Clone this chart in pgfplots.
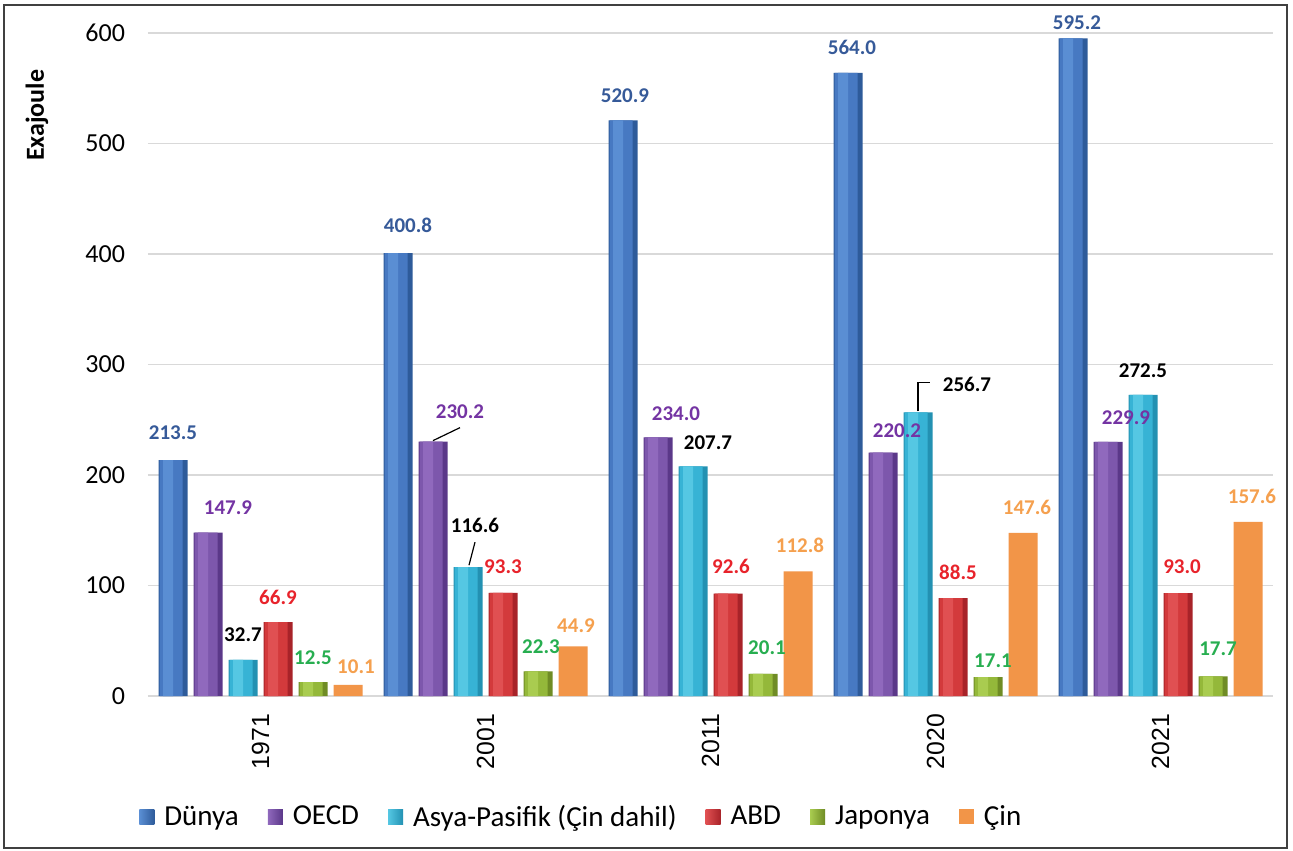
\documentclass[border=0pt]{standalone}
\usepackage{pgfplots}
\pgfplotsset{compat=1.18}
\usepackage{pgfplotstable}
\usepackage{fontspec}
\setmainfont{Carlito}
\newfontfamily\arialfont{Liberation Sans}

% bar colours (dark edge, mid body, light highlight)
\definecolor{dunyaM}{HTML}{4779C2}\definecolor{dunyaL}{HTML}{5A8ED3}\definecolor{dunyaD}{HTML}{2E5B9A}
\definecolor{oecdM}{HTML}{7D57AC}\definecolor{oecdL}{HTML}{9069BD}\definecolor{oecdD}{HTML}{5B3889}
\definecolor{asyaM}{HTML}{37B3D5}\definecolor{asyaL}{HTML}{55C7E3}\definecolor{asyaD}{HTML}{2391B2}
\definecolor{abdM}{HTML}{D33A3C}\definecolor{abdL}{HTML}{E05052}\definecolor{abdD}{HTML}{A82329}
\definecolor{japM}{HTML}{94B83A}\definecolor{japL}{HTML}{A9CC50}\definecolor{japD}{HTML}{6F8C25}
\definecolor{cinM}{HTML}{F29548}
% value label colours
\definecolor{dunyaT}{HTML}{365A99}
\definecolor{oecdT}{HTML}{7434A3}
\definecolor{abdT}{HTML}{E8232B}
\definecolor{japT}{HTML}{27AE50}
\definecolor{cinT}{HTML}{F5A04E}

\newcommand{\lbl}{\bfseries\fontsize{10.5}{12}\selectfont}

% x = period index, y = exajoule, dx/dy = label offset (pt)
\pgfplotstableread{
x y dx dy
0 213.5 0 13.5
1 400.8 5 14
2 520.9 1 12.5
3 564.0 2 12.5
4 595.2 2 8
}\dunya
\pgfplotstableread{
x y dx dy
0 147.9 10 12.5
1 230.2 13.5 15
2 234.0 9 12
3 220.2 7 11
4 229.9 9 12
}\oecd
\pgfplotstableread{
x y dx dy
0 32.7 0 12.5
1 116.6 3.5 21
2 207.7 7.5 12
3 256.7 24.5 14
4 272.5 0 12
}\asya
\pgfplotstableread{
x y dx dy
0 66.9 0 12.5
1 93.3 0 13
2 92.6 1.5 13.5
3 88.5 2.5 13
4 93.0 2 13.5
}\abd
\pgfplotstableread{
x y dx dy
0 12.5 0 12.5
1 22.3 1.5 12.5
2 20.1 2 13
3 17.1 2.5 8
4 17.7 2.5 14
}\japonya
\pgfplotstableread{
x y dx dy
0 10.1 4 9
1 44.9 1.5 10.5
2 112.8 1 13
3 147.6 2 12.5
4 157.6 2 12.5
}\cin

\pgfplotsset{
  barlabel/.style={
    forget plot, draw=none, fill=none,
    nodes near coords={\pgfmathprintnumber[fixed,fixed zerofill,precision=1]{\pgfplotspointmeta}},
    visualization depends on={\thisrow{dx} \as \ldx},
    visualization depends on={\thisrow{dy} \as \ldy},
    nodes near coords style={anchor=center, xshift=\ldx pt, yshift=\ldy pt,
      text=#1, font=\lbl, inner sep=0pt},
  },
}

% one series of bars in three layers: dark edge, mid body, light highlight
% #1 table, #2 centre shift, #3 shift of body, #4 shift of highlight, #5 colour prefix
\newcommand{\barseries}[5]{%
  \addplot[forget plot, draw=none, fill=#5D, bar shift=#2pt, bar width=14.5pt] table[x=x,y=y] {#1};
  \addplot[forget plot, draw=none, fill=#5M, bar shift=#3pt, bar width=11.5pt] table[x=x,y=y] {#1};
  \addplot[forget plot, draw=none, fill=#5L, bar shift=#4pt, bar width=5pt] table[x=x,y=y] {#1};
}

\begin{document}
\begin{tikzpicture}
\useasboundingbox (-74pt,-77pt) rectangle (572.5pt,348pt);
\fill[white] (-74pt,-77pt) rectangle (572.5pt,348pt);
\begin{axis}[
  scale only axis, width=562.5pt, height=331.5pt,
  at={(0pt,0pt)}, anchor=south west,
  xmin=-0.5, xmax=4.5, ymin=0, ymax=600,
  ybar, bar width=14.5pt,
  axis line style={draw=none},
  major tick length=0pt,
  ytick={0,100,...,600}, xtick={0,...,4},
  xticklabels={1971,2001,2011,2020,2021},
  ymajorgrids, grid style={line width=0.8pt, color=black!15},
  clip=false,
  /pgf/number format/assume math mode=true,
  yticklabel style={font=\fontsize{13}{15}\selectfont, xshift=-8pt},
  xticklabel style={font=\arialfont\fontsize{12.4}{14}\selectfont, yshift=-5.5pt, rotate=90, anchor=east},
  ylabel={Exajoule},
  ylabel style={at={(axis description cs:-0.0987,0.876)}, anchor=center, font=\bfseries\fontsize{13}{15}\selectfont},
  legend columns=6,
  legend style={at={(-0.008,-0.1825)}, anchor=west, draw=none, fill=none,
    font=\fontsize{14.5}{17}\selectfont, inner sep=0pt,
    /tikz/every odd column/.append style={column sep=3pt},
    /tikz/every even column/.append style={column sep=12.5pt}},
  legend image code/.code={\path[#1,draw=none] (0pt,-3.75pt) rectangle (7.5pt,3.75pt);},
]
\barseries{\dunya}{-43.75}{-44.75}{-46.25}{dunya}
\barseries{\oecd}{-26.25}{-27.25}{-28.75}{oecd}
\barseries{\asya}{-8.75}{-9.75}{-11.25}{asya}
\barseries{\abd}{8.75}{7.75}{6.25}{abd}
\barseries{\japonya}{26.25}{25.25}{23.75}{jap}
\addplot[forget plot, draw=none, fill=cinM, bar shift=43.75pt, bar width=14.5pt] table[x=x,y=y] {\cin};

% value labels, drawn above every bar
\addplot[bar shift=-43.75pt, barlabel=dunyaT] table[x=x,y=y] {\dunya};
\addplot[bar shift=-26.25pt, barlabel=oecdT] table[x=x,y=y] {\oecd};
\addplot[bar shift=-8.75pt, barlabel=black] table[x=x,y=y] {\asya};
\addplot[bar shift=8.75pt, barlabel=abdT] table[x=x,y=y] {\abd};
\addplot[bar shift=26.25pt, barlabel=japT] table[x=x,y=y] {\japonya};
\addplot[bar shift=43.75pt, barlabel=cinT] table[x=x,y=y] {\cin};

% leader lines for displaced labels
\draw[line width=0.6pt] ([xshift=-26.25pt,yshift=0.5pt]axis cs:1,230.2) -- ([xshift=-12.75pt,yshift=7pt]axis cs:1,230.2);
\draw[line width=0.6pt] ([xshift=-8.25pt,yshift=1pt]axis cs:1,116.6) -- ([xshift=-5.25pt,yshift=12.5pt]axis cs:1,116.6);
\draw[line width=0.6pt] ([xshift=-8.75pt,yshift=0.5pt]axis cs:3,256.7) -- ([xshift=-8.75pt,yshift=15pt]axis cs:3,256.7) -- ([xshift=-2.75pt,yshift=15pt]axis cs:3,256.7);

\addlegendimage{draw=none, left color=dunyaL, right color=dunyaD}
\addlegendentry{Dünya}
\addlegendimage{draw=none, left color=oecdL, right color=oecdD}
\addlegendentry{OECD}
\addlegendimage{draw=none, left color=asyaL, right color=asyaD}
\addlegendentry{Asya-Pasifik (Çin dahil)}
\addlegendimage{draw=none, left color=abdL, right color=abdD}
\addlegendentry{ABD}
\addlegendimage{draw=none, left color=japL, right color=japD}
\addlegendentry{Japonya}
\addlegendimage{draw=none, fill=cinM}
\addlegendentry{Çin}
\end{axis}
\draw[line width=1.4pt, black!75] (-72pt,-76pt) rectangle (569.5pt,345.5pt);
\end{tikzpicture}
\end{document}
